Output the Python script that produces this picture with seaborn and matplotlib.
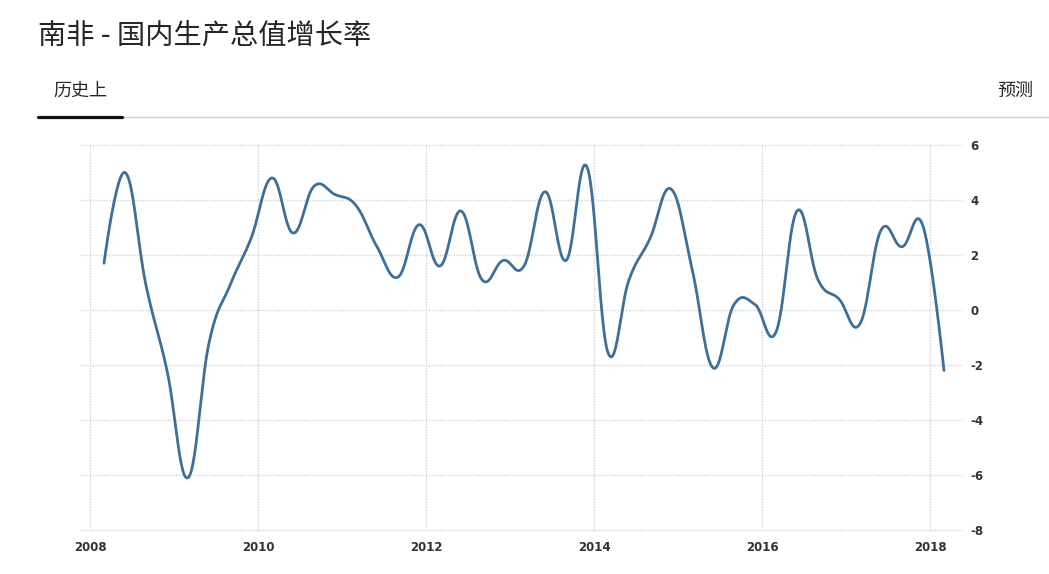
import numpy as np
import pandas as pd
import matplotlib
matplotlib.use("Agg")
import matplotlib.pyplot as plt
from matplotlib.lines import Line2D
import seaborn as sns

# ---- data (South Africa GDP growth, quarterly, annualised %) ----
start_month = "2008-03-01"
values = [1.7, 5.0, 0.9, -2.2, -6.1, -1.2, 0.9, 2.6,
          4.8, 2.8, 4.5, 4.2, 3.8, 2.3, 1.2, 3.1,
          1.6, 3.6, 1.1, 1.8, 1.6, 4.3, 1.8, 5.2,
          -1.55, 1.1, 2.6, 4.4, 1.5, -2.1, 0.2, 0.2,
          -0.8, 3.6, 1.1, 0.4, -0.5, 2.9, 2.3, 3.05, -2.2]
x_ticks = [2008, 2010, 2012, 2014, 2016, 2018]
y_ticks = [6, 4, 2, 0, -2, -4, -6, -8]
title = "南非 - 国内生产总值增长率"
tab_left = "历史上"
tab_right = "预测"

dates = pd.date_range(start_month, periods=len(values), freq="3MS")
xdec = np.array([d.year + (d.month - 1) / 12 for d in dates])
yv = np.array(values, dtype=float)


def spline(x, y, n=30, smoothing=1.5):
    """Highcharts-style spline rendering between the data points."""
    denom = smoothing + 1
    N = len(x)
    lc = np.zeros((N, 2)); rc = np.zeros((N, 2))
    for i in range(N):
        if i == 0 or i == N - 1:
            lc[i] = rc[i] = (x[i], y[i])
            continue
        lx = (smoothing * x[i] + x[i - 1]) / denom
        ly = (smoothing * y[i] + y[i - 1]) / denom
        rx = (smoothing * x[i] + x[i + 1]) / denom
        ry = (smoothing * y[i] + y[i + 1]) / denom
        corr = ((ry - ly) * (rx - x[i])) / (rx - lx) + y[i] - ry
        lc[i] = (lx, ly + corr); rc[i] = (rx, ry + corr)
    xs, ys = [], []
    t = np.linspace(0, 1, n, endpoint=False)
    for i in range(N - 1):
        p0 = np.array([x[i], y[i]]); p1 = rc[i]; p2 = lc[i + 1]; p3 = np.array([x[i + 1], y[i + 1]])
        b = ((1 - t) ** 3)[:, None] * p0 + (3 * (1 - t) ** 2 * t)[:, None] * p1 \
            + (3 * (1 - t) * t ** 2)[:, None] * p2 + (t ** 3)[:, None] * p3
        xs.extend(b[:, 0]); ys.extend(b[:, 1])
    xs.append(x[-1]); ys.append(y[-1])
    return np.array(xs), np.array(ys)


sx, sy = spline(xdec, yv)
df = pd.DataFrame({"x": sx, "y": sy})

sns.set_theme(style="white")
plt.rcParams["font.family"] = ["Noto Sans CJK SC", "DejaVu Sans"]

W, H = 1049, 574
fig = plt.figure(figsize=(W / 100, H / 100), dpi=100, facecolor="white")

ax_l, ax_r, ax_t, ax_b = 81, 962, 145, 530
ax = fig.add_axes([ax_l / W, 1 - ax_b / H, (ax_r - ax_l) / W, (ax_b - ax_t) / H])
ax.set_facecolor("white")

sns.lineplot(data=df, x="x", y="y", ax=ax, color="#3e6f99", linewidth=2.0,
             sort=False, estimator=None)

# axis ranges mapped so 2008 -> px 90, 2018 -> px 930
ppy = 84.0
ax.set_xlim(2008 - (90 - ax_l) / ppy, 2018 + (ax_r - 930) / ppy)
ax.set_ylim(-8, 6)

grid_kw = dict(color="#d4d4e0", linewidth=1.0, linestyle=(0, (1, 1)))
ax.set_xticks(x_ticks)
ax.set_yticks(y_ticks)
ax.grid(True, axis="both", **grid_kw)
for gl in ax.get_xgridlines() + ax.get_ygridlines():
    gl.set_clip_on(False)
for s in ax.spines.values():
    s.set_visible(False)
ax.yaxis.tick_right()
ax.set_xticklabels([str(v) for v in x_ticks])
ax.set_yticklabels([str(v) for v in y_ticks])
ax.tick_params(axis="x", length=3, color="#d4d4e0", pad=5, labelsize=8.5, labelcolor="#333333")
ax.tick_params(axis="y", length=0, pad=6, labelsize=8.5, labelcolor="#333333")
for lab in ax.get_xticklabels() + ax.get_yticklabels():
    lab.set_fontfamily("DejaVu Sans")
    lab.set_fontweight("bold")
ax.set_xlabel("")
ax.set_ylabel("")

# header texts
fig.text(38 / W, 1 - 37 / H, title, fontsize=20.3, color="#262626", va="center", ha="left")
fig.text(53 / W, 1 - 91 / H, tab_left, fontsize=13, color="#262626", va="center", ha="left")
fig.text(1033 / W, 1 - 91 / H, tab_right, fontsize=13, color="#262626", va="center", ha="right")

# tab lines
fig.add_artist(Line2D([122 / W, 1.0], [1 - 117 / H, 1 - 117 / H], color="#cccccc", linewidth=1.0))
fig.add_artist(Line2D([38 / W, 122 / W], [1 - 117 / H, 1 - 117 / H], color="#111111", linewidth=2.3))

fig.savefig("out.png", dpi=100, facecolor="white")
